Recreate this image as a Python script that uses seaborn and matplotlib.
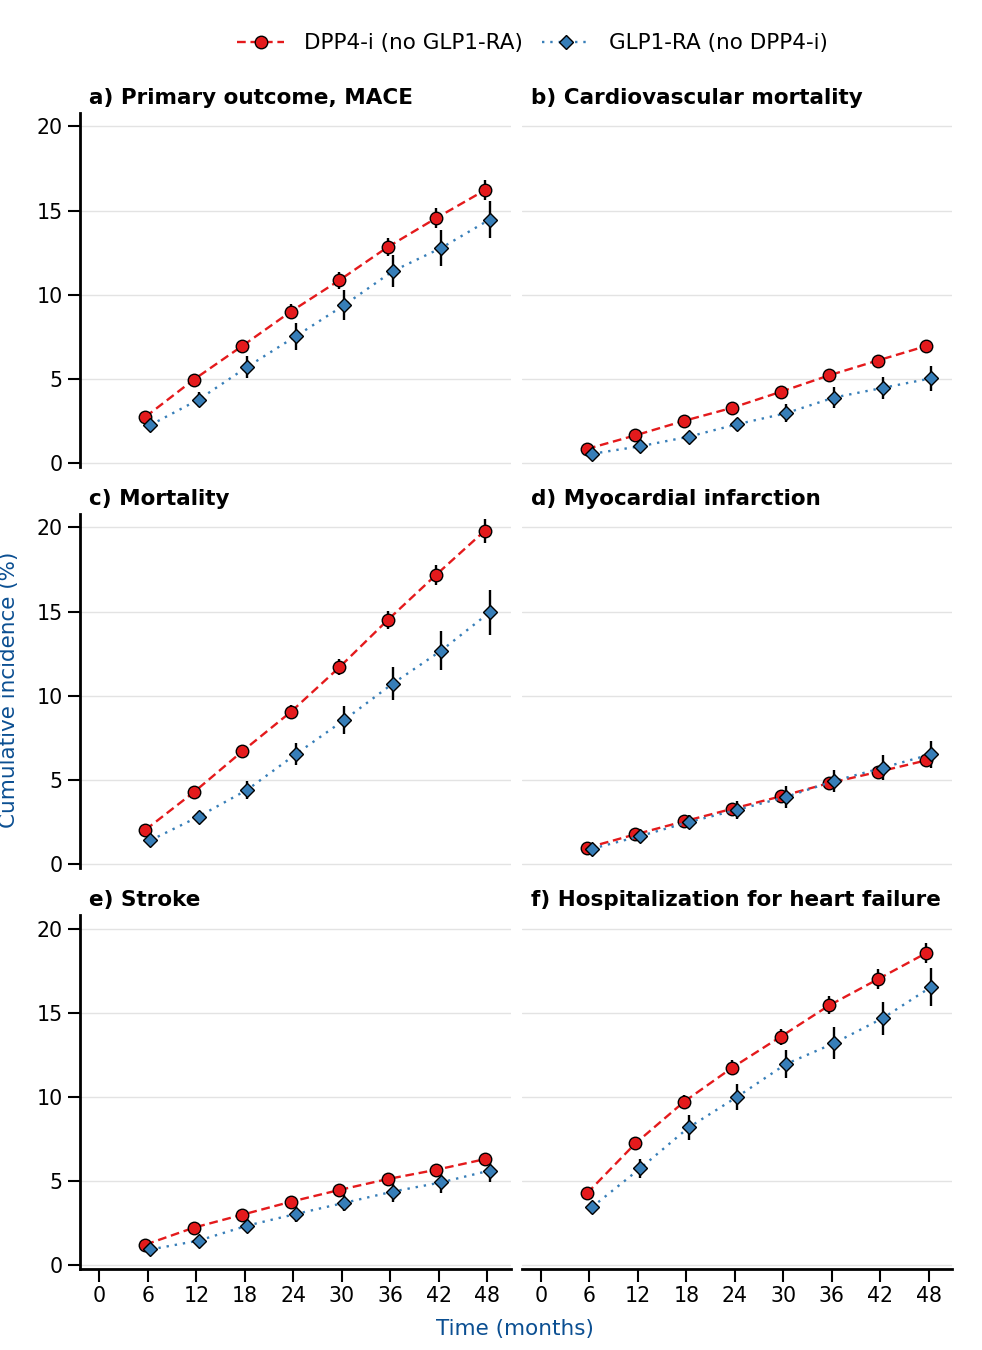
import numpy as np
import pandas as pd
import matplotlib
matplotlib.use("Agg")
import matplotlib.pyplot as plt
import seaborn as sns

# months of follow-up
months = [6, 12, 18, 24, 30, 36, 42, 48]
series_names = ["DPP4-i (no GLP1-RA)", "GLP1-RA (no DPP4-i)"]
titles = [
    "a) Primary outcome, MACE",
    "b) Cardiovascular mortality",
    "c) Mortality",
    "d) Myocardial infarction",
    "e) Stroke",
    "f) Hospitalization for heart failure",
]

# cumulative incidence (%) and half-width of the interval
mace_dpp4 = [2.73, 4.95, 6.95, 8.99, 10.85, 12.83, 14.55, 16.2]
mace_dpp4_err = [0.2, 0.25, 0.35, 0.43, 0.5, 0.53, 0.6, 0.6]
mace_glp1 = [2.24, 3.76, 5.7, 7.52, 9.37, 11.39, 12.77, 14.46]
mace_glp1_err = [0.3, 0.45, 0.66, 0.8, 0.9, 0.94, 1.05, 1.1]

cvd_dpp4 = [0.82, 1.63, 2.49, 3.27, 4.22, 5.2, 6.08, 6.94]
cvd_dpp4_err = [0.1, 0.13, 0.17, 0.2, 0.24, 0.27, 0.3, 0.33]
cvd_glp1 = [0.53, 0.98, 1.55, 2.29, 2.94, 3.88, 4.45, 5.02]
cvd_glp1_err = [0.15, 0.22, 0.3, 0.4, 0.54, 0.64, 0.67, 0.75]

mort_dpp4 = [2.02, 4.26, 6.69, 9.03, 11.68, 14.5, 17.19, 19.8]
mort_dpp4_err = [0.18, 0.25, 0.33, 0.4, 0.48, 0.52, 0.6, 0.7]
mort_glp1 = [1.39, 2.81, 4.4, 6.51, 8.55, 10.71, 12.67, 14.95]
mort_glp1_err = [0.25, 0.35, 0.53, 0.66, 0.82, 0.98, 1.16, 1.34]

mi_dpp4 = [0.95, 1.75, 2.52, 3.27, 4.01, 4.8, 5.46, 6.15]
mi_dpp4_err = [0.12, 0.17, 0.22, 0.26, 0.3, 0.33, 0.37, 0.4]
mi_glp1 = [0.89, 1.65, 2.48, 3.21, 3.97, 4.92, 5.71, 6.51]
mi_glp1_err = [0.2, 0.3, 0.4, 0.55, 0.63, 0.67, 0.73, 0.8]

stroke_dpp4 = [1.2, 2.21, 2.98, 3.75, 4.45, 5.1, 5.65, 6.28]
stroke_dpp4_err = [0.12, 0.17, 0.21, 0.25, 0.28, 0.3, 0.33, 0.35]
stroke_glp1 = [0.91, 1.44, 2.33, 3.02, 3.68, 4.35, 4.9, 5.6]
stroke_glp1_err = [0.2, 0.3, 0.4, 0.5, 0.5, 0.6, 0.65, 0.7]

hf_dpp4 = [4.25, 7.22, 9.69, 11.73, 13.57, 15.43, 16.98, 18.54]
hf_dpp4_err = [0.3, 0.35, 0.4, 0.45, 0.48, 0.53, 0.6, 0.6]
hf_glp1 = [3.42, 5.74, 8.17, 9.99, 11.93, 13.18, 14.66, 16.52]
hf_glp1_err = [0.4, 0.56, 0.72, 0.79, 0.84, 0.94, 0.99, 1.14]

panels = [
    (mace_dpp4, mace_dpp4_err, mace_glp1, mace_glp1_err),
    (cvd_dpp4, cvd_dpp4_err, cvd_glp1, cvd_glp1_err),
    (mort_dpp4, mort_dpp4_err, mort_glp1, mort_glp1_err),
    (mi_dpp4, mi_dpp4_err, mi_glp1, mi_glp1_err),
    (stroke_dpp4, stroke_dpp4_err, stroke_glp1, stroke_glp1_err),
    (hf_dpp4, hf_dpp4_err, hf_glp1, hf_glp1_err),
]

RED = "#e41a1c"
BLUE = "#377eb8"
LABEL_BLUE = "#0b4f92"

sns.set_theme(style="white")
plt.rcParams["font.family"] = ["DejaVu Sans"]
plt.rcParams["text.color"] = "black"
plt.rcParams["xtick.color"] = "black"
plt.rcParams["ytick.color"] = "black"
plt.rcParams["axes.edgecolor"] = "black"

fig, axes = plt.subplots(3, 2, figsize=(9.82, 13.5), dpi=100, sharex=True, sharey=True)
fig.subplots_adjust(left=0.0815, right=0.9695, top=0.9163, bottom=0.06,
                    wspace=0.0256, hspace=0.133)

styles = [
    dict(color=RED, marker="o", markersize=9, dashes=(3.7, 2.0), offset=-0.3),
    dict(color=BLUE, marker="D", markersize=7.5, dashes=(1.0, 2.5), offset=0.3),
]

for k, ax in enumerate(axes.flat):
    d_val, d_err, g_val, g_err = panels[k]
    for s, (vals, errs, name) in enumerate([(d_val, d_err, series_names[0]),
                                            (g_val, g_err, series_names[1])]):
        st = styles[s]
        df = pd.DataFrame({"month": np.array(months) + st["offset"],
                           "value": vals, "err": errs})
        ax.errorbar(df["month"], df["value"], yerr=df["err"], fmt="none",
                    ecolor="black", elinewidth=1.7, capsize=0, zorder=2)
        sns.lineplot(data=df, x="month", y="value", ax=ax, color=st["color"],
                     marker=st["marker"], markersize=st["markersize"],
                     markeredgecolor="black", markeredgewidth=1.0,
                     linewidth=1.7, dashes=st["dashes"], label=name, zorder=3)
    ax.get_legend().remove()
    ax.set_xlabel("")
    ax.set_ylabel("")
    ax.text(0.021, 1.026, titles[k], transform=ax.transAxes, ha="left",
            va="baseline", fontsize=15.5, fontweight="bold", color="black")
    ax.yaxis.grid(True, color="#e3e3e3", linewidth=1.0)
    ax.set_axisbelow(True)
    for side in ["top", "right"]:
        ax.spines[side].set_visible(False)
    ax.spines["left"].set_linewidth(2)
    ax.spines["bottom"].set_linewidth(2)
    ax.tick_params(axis="both", labelsize=14.8, length=9, width=1.5, color="black",
                   labelcolor="black")
    row, col = divmod(k, 2)
    if col == 1:
        ax.spines["left"].set_visible(False)
        ax.tick_params(axis="y", left=False, labelleft=False)
    else:
        ax.tick_params(axis="y", left=True)
    if row < 2:
        ax.spines["bottom"].set_visible(False)
        ax.tick_params(axis="x", bottom=False, labelbottom=False)
    else:
        ax.tick_params(axis="x", bottom=True, labelbottom=True)

axes[0, 0].set_xlim(-2.4, 50.9)
axes[0, 0].set_ylim(-0.25, 20.8)
axes[0, 0].set_xticks([0, 6, 12, 18, 24, 30, 36, 42, 48])
axes[0, 0].set_yticks([0, 5, 10, 15, 20])

handles, labels = axes[0, 0].get_legend_handles_labels()
fig.legend(handles, labels, loc="center", bbox_to_anchor=(0.542, 0.968), ncol=2,
           frameon=False, fontsize=15.5, handlelength=2.2, handletextpad=0.9,
           columnspacing=0.9, labelcolor="black")

fig.text(0.5245, 1 - 1329 / 1350, "Time (months)", ha="center", va="center",
         fontsize=15.5, color=LABEL_BLUE)
fig.text(0.009, 0.489, "Cumulative incidence (%)", ha="center", va="center",
         rotation=90, fontsize=15.5, color=LABEL_BLUE)

fig.savefig("out.png", dpi=100)
